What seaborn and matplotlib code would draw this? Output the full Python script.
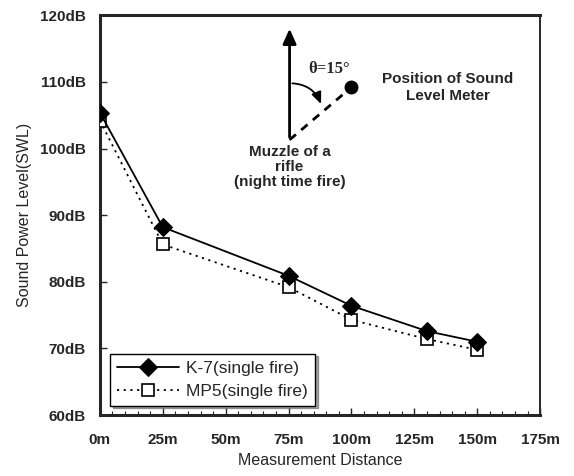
import matplotlib

matplotlib.use("Agg")
import matplotlib.pyplot as plt
import pandas as pd
import seaborn as sns
from matplotlib.patches import FancyArrowPatch
from matplotlib.ticker import MultipleLocator, FuncFormatter, NullLocator

distance = [0, 25, 75, 100, 130, 150]
k7_level = [105.4, 88.2, 80.9, 76.4, 72.6, 71.0]
mp5_level = [104.2, 85.6, 79.2, 74.3, 71.4, 69.8]
series_names = ["K-7(single fire)", "MP5(single fire)"]

sns.set_style("ticks")
plt.rcParams["font.family"] = ["Liberation Sans", "DejaVu Sans"]

d = pd.concat([
    pd.DataFrame({"dist": distance, "swl": k7_level, "series": series_names[0]}),
    pd.DataFrame({"dist": distance, "swl": mp5_level, "series": series_names[1]}),
])

fig = plt.figure(figsize=(5.74, 4.76), dpi=100)
ax = fig.add_axes([0.174, 0.128, 0.767, 0.84])

sns.lineplot(data=d[d["series"] == series_names[0]], x="dist", y="swl", ax=ax,
             color="black", lw=1.3, marker="D", markersize=9, markerfacecolor="black",
             markeredgecolor="black", label=series_names[0], zorder=4)
sns.lineplot(data=d[d["series"] == series_names[1]], x="dist", y="swl", ax=ax,
             color="black", lw=1.3, linestyle=(0, (1.2, 2.5)), marker="s", markersize=9,
             markerfacecolor="white", markeredgecolor="black", markeredgewidth=1.2,
             label=series_names[1], zorder=3)

ax.set_xlim(0, 175)
ax.set_ylim(60, 120)
ax.xaxis.set_major_locator(MultipleLocator(25))
ax.xaxis.set_minor_locator(MultipleLocator(5))
ax.yaxis.set_major_locator(MultipleLocator(10))
ax.yaxis.set_minor_locator(NullLocator())
ax.xaxis.set_major_formatter(FuncFormatter(lambda v, p: f"{v:.0f}m"))
ax.yaxis.set_major_formatter(FuncFormatter(lambda v, p: f"{v:.0f}dB"))
ax.tick_params(axis="both", which="both", direction="in", labelsize=11)
ax.tick_params(axis="x", pad=13)
ax.tick_params(axis="y", pad=10)
ax.tick_params(which="major", length=5, width=1)
ax.tick_params(which="minor", length=3, width=0.8)
for lab in ax.get_xticklabels() + ax.get_yticklabels():
    lab.set_fontweight("bold")
for s in ("left", "bottom", "top"):
    ax.spines[s].set_linewidth(2.2)
ax.spines["right"].set_linewidth(1.4)

ax.set_xlabel("Measurement Distance", fontsize=11.5, labelpad=4)
ax.set_ylabel("Sound Power Level(SWL)", fontsize=11.5, labelpad=6)

leg = ax.legend(loc="lower left", bbox_to_anchor=(0.015, 0.015), fontsize=12.5,
                frameon=True, fancybox=False, shadow=True, handlelength=3.6,
                borderpad=0.4, labelspacing=0.45, borderaxespad=0.2, handletextpad=0.4)
leg.get_frame().set_edgecolor("black")
leg.get_frame().set_linewidth(1.0)

# inset sketch: muzzle direction and meter position
ax.add_patch(FancyArrowPatch((75.4, 101.3), (75.4, 118.4), arrowstyle="-|>,head_length=9,head_width=4",
                             color="black", lw=2, mutation_scale=1))
ax.plot([75.4, 100], [101.3, 109.2], color="black", lw=2, ls=(0, (3, 2.5)))
ax.plot([100], [109.2], "o", color="black", markersize=9)
ax.add_patch(FancyArrowPatch((75.4, 109.8), (88.3, 106.3), connectionstyle="arc3,rad=-0.35",
                             arrowstyle="-|>,head_length=7,head_width=3", color="black", lw=1.3,
                             mutation_scale=1))
ax.text(91, 112, "θ=15°", fontsize=12, fontweight="bold", family=["Liberation Serif", "DejaVu Serif"],
        ha="center", va="center")
ax.text(138.4, 109.2, "Position of Sound\nLevel Meter", fontsize=11, fontweight="bold",
        ha="center", va="center", linespacing=1.25)
ax.text(75.4, 100.5, "Muzzle of a\nrifle\n(night time fire)", fontsize=11, fontweight="bold",
        ha="center", va="top", linespacing=1.1)

fig.savefig("out.png", dpi=100)
